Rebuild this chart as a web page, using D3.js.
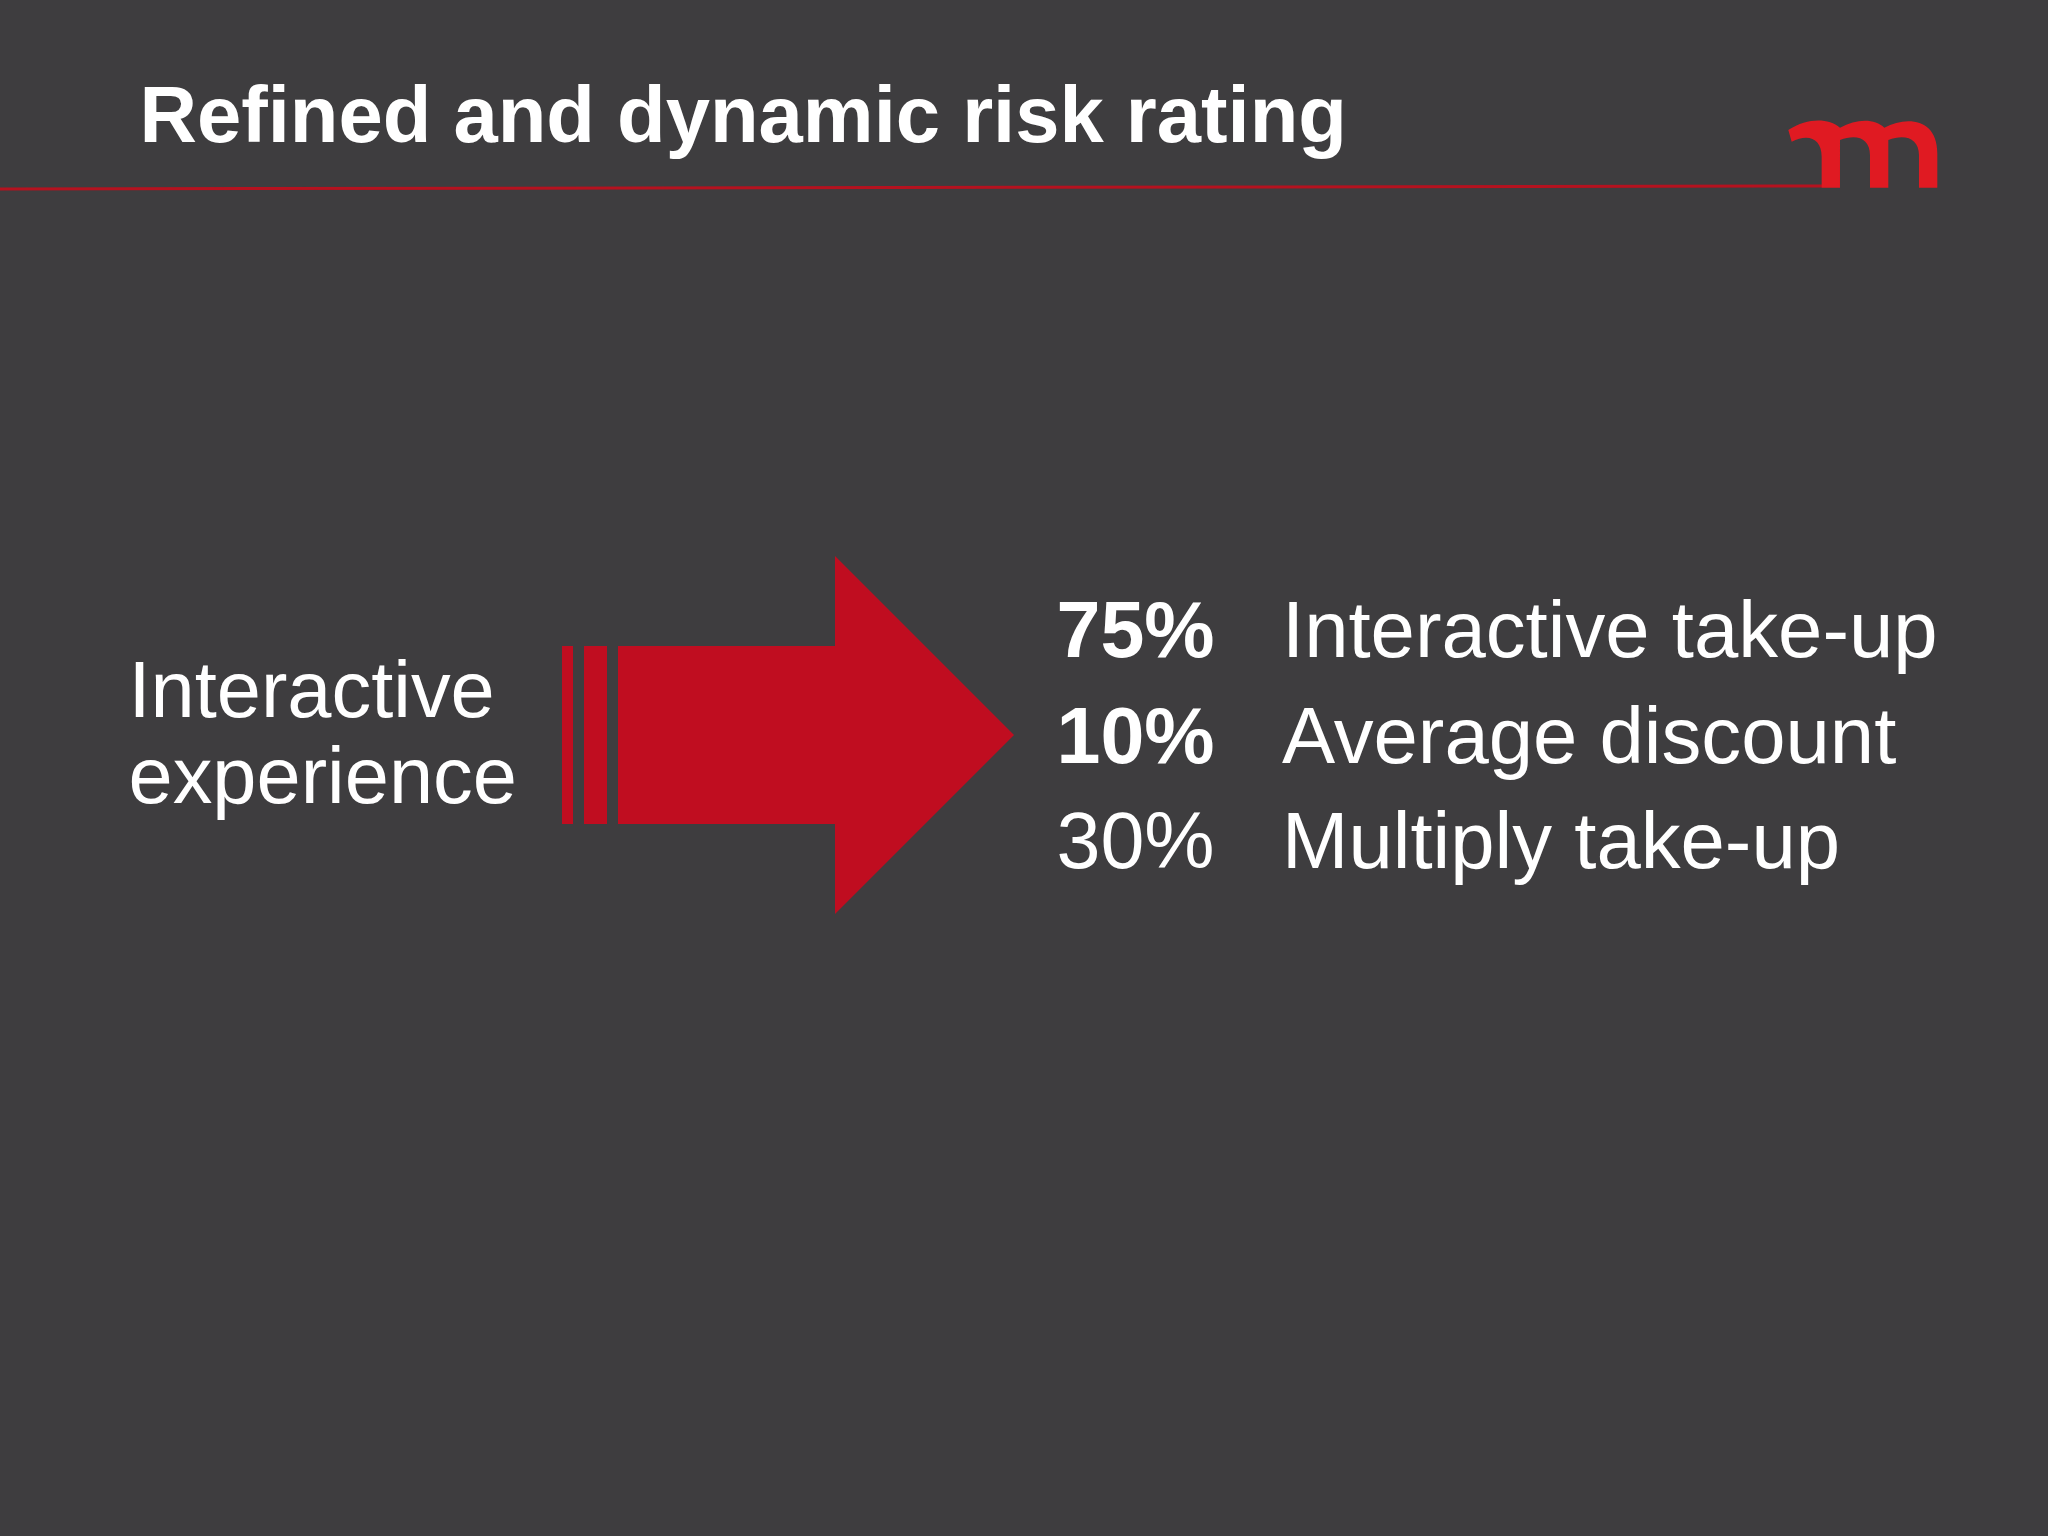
<!DOCTYPE html>
<html>
<head>
<meta charset="utf-8">
<script src="https://cdn.jsdelivr.net/npm/d3@7"></script>
<style>
  html, body { margin: 0; padding: 0; background: #3e3d3f; }
  text { font-family: "Liberation Sans", Arial, sans-serif; fill: #fff; }
</style>
</head>
<body>
<svg id="chart" width="2048" height="1536"></svg>
<script>
// slide content
var titleText = "Refined and dynamic risk rating";
var sourceLines = ["Interactive", "experience"];
var rateValues = [75, 10, 30];
var rateLabels = ["Interactive take-up", "Average discount", "Multiply take-up"];
var rateBold = [true, true, false];

var svg = d3.select("#chart");
svg.append("rect").attr("width", 2048).attr("height", 1536).attr("fill", "#3e3d3f");

// header
svg.append("text").attr("x", 139.5).attr("y", 142)
    .attr("font-size", 79.6).attr("font-weight", "bold").text(titleText);
svg.append("line").attr("x1", 0).attr("x2", 1822).attr("y1", 189).attr("y2", 186)
    .attr("stroke", "#b5121f").attr("stroke-width", 3);

// logo, drawn in zoomed units
svg.append("path")
    .attr("transform", "translate(1700,90) scale(0.3333)")
    .attr("fill", "#e01a22")
    .attr("d", "M365,293 L365,200 C365,145 325,130 275,155 L265,120 C325,82 385,85 420,113 " +
        "C470,85 525,85 553,113 C620,78 712,85 712,190 L712,293 L657,293 L657,195 " +
        "C657,145 615,130 565,150 L565,293 L510,293 L510,195 C510,145 470,130 420,150 L420,293 Z");

// left text
var sourceY = d3.scalePoint().domain(sourceLines).range([717, 803]);
svg.selectAll(".source").data(sourceLines).enter().append("text")
    .attr("class", "source")
    .attr("x", 128.5)
    .attr("y", d => sourceY(d))
    .attr("font-size", 79.4)
    .text(d => d);

// arrow
var arrowColor = "#c00d20";
var stripes = [[562, 573], [584, 607]];
svg.selectAll(".stripe").data(stripes).enter().append("rect")
    .attr("class", "stripe")
    .attr("x", d => d[0])
    .attr("y", 646)
    .attr("width", d => d[1] - d[0])
    .attr("height", 178)
    .attr("fill", arrowColor);

var arrowLine = d3.line();
svg.append("path")
    .attr("fill", arrowColor)
    .attr("d", arrowLine([[618, 646], [835, 646], [835, 556], [1014, 735], [835, 914], [835, 824], [618, 824]]) + "Z");

// right table
var rowY = d3.scalePoint().domain(rateLabels).range([657, 868]);
svg.selectAll(".rate").data(rateValues).enter().append("text")
    .attr("class", "rate")
    .attr("x", 1056.5)
    .attr("y", (d, i) => rowY(rateLabels[i]))
    .attr("font-size", 79)
    .attr("font-weight", (d, i) => rateBold[i] ? "bold" : "normal")
    .text(d => d + "%");
svg.selectAll(".rate-label").data(rateLabels).enter().append("text")
    .attr("class", "rate-label")
    .attr("x", 1282)
    .attr("y", d => rowY(d))
    .attr("font-size", 79.7)
    .text(d => d);
</script>
</body>
</html>
